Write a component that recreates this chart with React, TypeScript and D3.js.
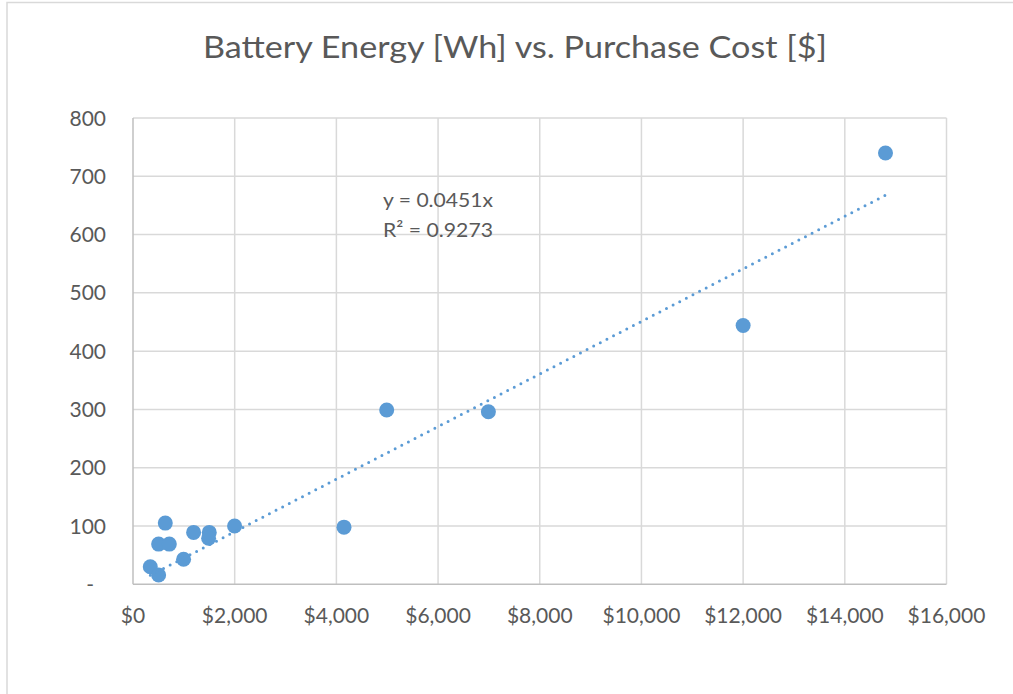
import React from "react";
import * as d3 from "d3";

const costs = [340, 504, 635, 504, 714, 995, 1192, 1500, 1487, 1998, 4150, 4990, 6990, 12000, 14800];
const energies = [30, 16, 105, 69, 69, 43, 89, 89, 79, 100, 98, 299, 296, 444, 740];
const xTicks = [0, 2000, 4000, 6000, 8000, 10000, 12000, 14000, 16000];
const yTicks = [0, 100, 200, 300, 400, 500, 600, 700, 800];
const trendSlope = 0.0451;
const eqLabels = ["y = 0.0451x", "R² = 0.9273"];
const title = "Battery Energy [Wh] vs. Purchase Cost [$]";

const W = 1013;
const H = 694;
const left = 133;
const right = 946.5;
const top = 118;
const bottom = 584.3;
const TEXT = "#595959";
const FONT = "Lato, 'Open Sans', sans-serif";

export default function App() {
  const x = d3.scaleLinear().domain([0, 16000]).range([left, right]);
  const y = d3.scaleLinear().domain([0, 800]).range([bottom, top]);
  const xMin = d3.min(costs)!;
  const xMax = d3.max(costs)!;
  const trend = d3.line<number>().x((d) => x(d)).y((d) => y(d * trendSlope))([xMin, xMax]) || "";
  const fmtX = (v: number) => "$" + d3.format(",")(v);

  return (
    <svg width={W} height={H} style={{ position: "absolute", left: 0, top: 0 }} fontFamily={FONT}>
      <rect x={0} y={0} width={W} height={H} fill="#fff" />
      <rect x={7} y={2.5} width={W + 10} height={H + 10} fill="none" stroke="#d9d9d9" strokeWidth={1.5} />
      <text x={203} y={58} fontSize={31} fill={TEXT} textLength={624} lengthAdjust="spacingAndGlyphs">
        {title}
      </text>
      {yTicks.filter((t) => t > 0).map((t) => (
        <line key={"gy" + t} x1={left} x2={right} y1={y(t)} y2={y(t)} stroke="#d9d9d9" strokeWidth={1.5} />
      ))}
      {xTicks.filter((t) => t > 0).map((t) => (
        <line key={"gx" + t} x1={x(t)} x2={x(t)} y1={top} y2={bottom} stroke="#d9d9d9" strokeWidth={1.5} />
      ))}
      <line x1={left} x2={left} y1={top} y2={bottom} stroke="#bfbfbf" strokeWidth={1.5} />
      <line x1={left} x2={right} y1={bottom} y2={bottom} stroke="#bfbfbf" strokeWidth={1.5} />
      {yTicks.map((t) => (
        <text
          key={"ty" + t}
          x={t === 0 ? 94 : 106}
          y={y(t) + 7.5}
          textAnchor="end"
          fontSize={21}
          fill={TEXT}
        >
          {t === 0 ? "-" : String(t)}
        </text>
      ))}
      {xTicks.map((t) => (
        <text key={"tx" + t} x={x(t)} y={623} textAnchor="middle" fontSize={21} fill={TEXT}>
          {fmtX(t)}
        </text>
      ))}
      {costs.map((c, i) => (
        <circle key={"p" + i} cx={x(c)} cy={y(energies[i])} r={7.5} fill="#5B9BD5" />
      ))}
      <path d={trend} fill="none" stroke="#5B9BD5" strokeWidth={3} strokeDasharray="0 7.45" strokeLinecap="round" />
      {eqLabels.map((l, i) => (
        <text key={"eq" + i} x={383} y={207 + i * 30} fontSize={20} fill={TEXT} textLength={110} lengthAdjust="spacingAndGlyphs">
          {l}
        </text>
      ))}
    </svg>
  );
}
